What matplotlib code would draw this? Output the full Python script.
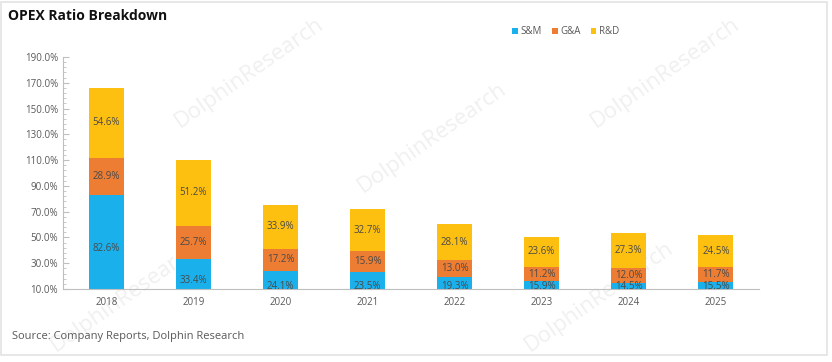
import numpy as np
import matplotlib.pyplot as plt
from matplotlib.ticker import FixedLocator, FuncFormatter

years = ["2018", "2019", "2020", "2021", "2022", "2023", "2024", "2025"]
sm = [82.6, 33.4, 24.1, 23.5, 19.3, 15.9, 14.5, 15.5]
ga = [28.9, 25.7, 17.2, 15.9, 13.0, 11.2, 12.0, 11.7]
rd = [54.6, 51.2, 33.9, 32.7, 28.1, 23.6, 27.3, 24.5]
series_names = ["S&M", "G&A", "R&D"]
colors = ["#1AB0EC", "#EC7D33", "#FDBF10"]

plt.rcParams['font.family'] = ['Open Sans', 'DejaVu Sans']

fig = plt.figure(figsize=(8.32, 3.62), dpi=100)
ax = fig.add_axes([0.0757, 0.2017, 0.837, 0.6408])
ax.patch.set_alpha(0)

x = np.arange(len(years))
bottom = np.zeros(len(years))
for name, vals, c in zip(series_names, [sm, ga, rd], colors):
    vals = np.array(vals)
    ax.bar(x, vals, 0.4, bottom=bottom, color=c, label=name, zorder=2)
    for xi, b, v in zip(x, bottom, vals):
        yc = b + v / 2
        if yc < 12:
            yc = 12.3
        ax.text(xi, yc, f"{v:.1f}%", ha="center", va="center",
                fontsize=7, color="#4A4A4A", zorder=3)
    bottom = bottom + vals

ax.set_xlim(-0.5, len(years) - 0.5)
ax.set_ylim(10, 190)
ax.yaxis.set_major_locator(FixedLocator(np.arange(10, 191, 20)))
ax.yaxis.set_minor_locator(FixedLocator(np.arange(10, 191, 4)))
ax.yaxis.set_major_formatter(FuncFormatter(lambda v, p: f"{v:.1f}%"))
ax.set_xticks(x)
ax.set_xticklabels(years)
ax.tick_params(axis="y", which="both", direction="in", colors="#BFBFBF",
               labelcolor="#595959", labelsize=7)
ax.tick_params(axis="y", which="major", length=4)
ax.tick_params(axis="y", which="minor", length=2.5)
ax.tick_params(axis="x", length=0, labelcolor="#595959", labelsize=7, pad=6)
for s in ["top", "right"]:
    ax.spines[s].set_visible(False)
for s in ["left", "bottom"]:
    ax.spines[s].set_color("#BFBFBF")
    ax.spines[s].set_linewidth(0.8)

# faint watermarks
for wx, wy in [(0.30, 0.80), (0.52, 0.62), (0.80, 0.80), (0.15, 0.18), (0.72, 0.18)]:
    fig.text(wx, wy, "DolphinResearch", rotation=35, fontsize=16,
             color="#F0F0F0", ha="center", va="center", zorder=-1)

ax.legend(loc="center", bbox_to_anchor=(0.68, 0.912), bbox_transform=fig.transFigure,
          ncol=3, frameon=False, fontsize=7, handlelength=0.6, handleheight=0.6,
          handletextpad=0.3, columnspacing=1.0, labelcolor="#595959")

fig.text(0.01, 0.955, "OPEX Ratio Breakdown", fontsize=10, fontweight="bold",
         color="#111111", ha="left", va="center")
fig.text(0.014, 0.07, "Source: Company Reports, Dolphin Research", fontsize=8,
         color="#595959", ha="left", va="center")

fig.add_artist(plt.Rectangle((0.001, 0.02), 0.993, 0.975, transform=fig.transFigure,
                             fill=False, edgecolor="#E3E3E3", linewidth=1.2))

fig.savefig("out.png", dpi=100)
